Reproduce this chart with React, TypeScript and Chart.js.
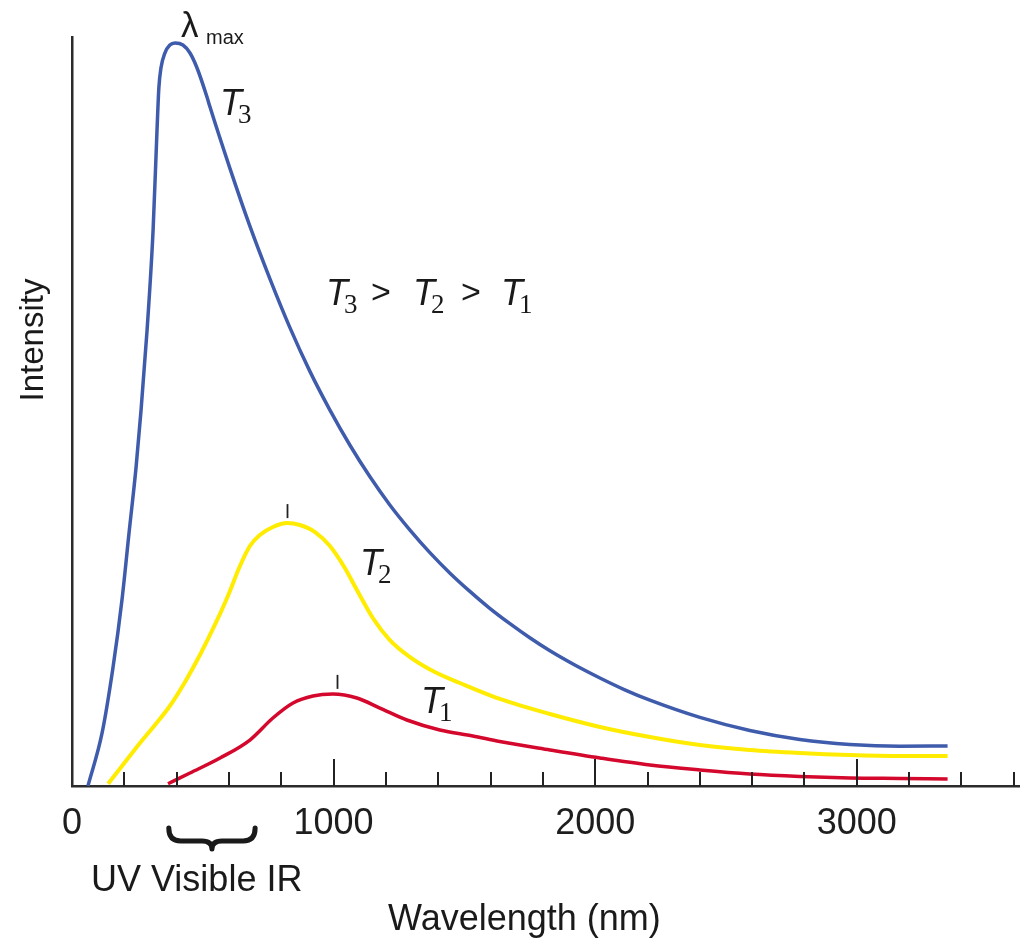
import React, { useEffect, useRef } from "react";
import { Chart, registerables } from "chart.js";

Chart.register(...registerables);

// ---- data (wavelength in nm, intensity in arbitrary units 0..100) ----
const t3Wavelength = [61, 115, 157, 191, 218, 245, 264, 287, 310, 325, 332, 340, 355, 374, 394, 424, 451, 478, 516, 527, 604, 680, 757, 833, 909, 986, 1062, 1139, 1215, 1292, 1368, 1444, 1521, 1597, 1674, 1750, 1827, 1922, 2018, 2113, 2209, 2400, 2591, 2782, 2973, 3164, 3347];
const t3Intensity = [0, 7.08, 15.89, 24.83, 33.78, 42.59, 50.2, 60.88, 74.23, 87.58, 93.19, 95.86, 97.86, 98.93, 99.2, 98.93, 97.86, 95.86, 91.99, 90.71, 82.43, 74.75, 67.68, 61.2, 55.39, 50.19, 45.53, 41.28, 37.52, 34.17, 31.16, 28.45, 25.98, 23.72, 21.67, 19.79, 18.05, 16.15, 14.42, 12.84, 11.46, 9.16, 7.42, 6.22, 5.55, 5.31, 5.34];

const t2Wavelength = [138, 203, 260, 317, 374, 432, 489, 546, 596, 642, 680, 718, 768, 822, 871, 929, 986, 1043, 1089, 1150, 1215, 1292, 1387, 1483, 1635, 1827, 2018, 2209, 2400, 2591, 2782, 2973, 3164, 3347];
const t2Intensity = [0.3, 3.2, 5.74, 8.14, 10.68, 13.89, 17.49, 21.5, 25.37, 29.37, 32.04, 33.51, 34.58, 35.11, 34.85, 33.91, 32.04, 29.11, 26.17, 22.43, 19.49, 17.22, 15.22, 13.75, 11.62, 9.61, 7.88, 6.54, 5.47, 4.81, 4.41, 4.14, 4.01, 4.01];

const t1Wavelength = [367, 451, 566, 680, 768, 845, 921, 997, 1089, 1177, 1280, 1406, 1532, 1635, 1827, 2018, 2209, 2400, 2591, 2782, 2973, 3164, 3347];
const t1Intensity = [0.3, 1.74, 3.74, 6.14, 9.08, 11.08, 12.02, 12.28, 11.75, 10.41, 8.81, 7.48, 6.68, 5.94, 4.81, 3.74, 2.8, 2.14, 1.6, 1.27, 1.07, 1.0, 0.93];

// λmax markers for T2 and T1
const peakWavelength = [822, 1013];
const peakIntensity = [35.1, 12.3];

// visible band (nm) marked by the brace
const visibleBand = [370, 700];

// x axis: tick marks every 200 nm, labels every 1000 nm
const xTickValues = [0, 200, 400, 600, 800, 1000, 1200, 1400, 1600, 1800, 2000, 2200, 2400, 2600, 2800, 3000, 3200, 3400, 3600];
const xTickLabels = [0, 1000, 2000, 3000];

const SANS = '"Liberation Sans", Arial, Helvetica, sans-serif';
const SERIF = '"Liberation Serif", "Times New Roman", serif';

function toPoints(xs: number[], ys: number[]) {
  return xs.map((x, i) => ({ x, y: ys[i] }));
}

const isLabelled = (v: number) => xTickLabels.some((t) => Math.abs(t - v) < 1e-6);

const overlay = {
  id: "overlay",
  afterDraw(chart: any) {
    const { ctx, chartArea } = chart;
    const x = chart.scales.x;
    const y = chart.scales.y;
    ctx.save();

    // inward tick marks
    ctx.strokeStyle = "#222";
    ctx.lineWidth = 2;
    x.ticks.forEach((t: any) => {
      if (Math.abs(t.value) < 1e-6) return;
      const px = Math.round(x.getPixelForValue(t.value));
      const len = isLabelled(t.value) ? 27 : 14;
      ctx.beginPath();
      ctx.moveTo(px, chartArea.bottom);
      ctx.lineTo(px, chartArea.bottom - len);
      ctx.stroke();
    });

    // peak markers
    ctx.lineWidth = 1.8;
    peakWavelength.forEach((w, i) => {
      const px = Math.round(x.getPixelForValue(w)) + 0.5;
      const py = y.getPixelForValue(peakIntensity[i]);
      ctx.beginPath();
      ctx.moveTo(px, py - 5);
      ctx.lineTo(px, py - 19);
      ctx.stroke();
    });

    // brace under visible band
    const x0 = x.getPixelForValue(visibleBand[0]);
    const x1 = x.getPixelForValue(visibleBand[1]);
    const xc = (x0 + x1) / 2;
    const yTop = chartArea.bottom + 42;
    const yMid = chartArea.bottom + 55;
    const yBot = chartArea.bottom + 63;
    ctx.strokeStyle = "#1a1a1a";
    ctx.lineWidth = 5;
    ctx.lineCap = "round";
    ctx.lineJoin = "round";
    ctx.beginPath();
    ctx.moveTo(x0, yTop);
    ctx.quadraticCurveTo(x0, yMid, x0 + 12, yMid);
    ctx.lineTo(xc - 10, yMid);
    ctx.quadraticCurveTo(xc, yMid, xc, yBot);
    ctx.quadraticCurveTo(xc, yMid, xc + 10, yMid);
    ctx.lineTo(x1 - 12, yMid);
    ctx.quadraticCurveTo(x1, yMid, x1, yTop);
    ctx.stroke();

    // texts
    ctx.fillStyle = "#1a1a1a";
    ctx.textBaseline = "alphabetic";
    ctx.textAlign = "left";

    ctx.font = `36px ${SANS}`;
    ctx.fillText("UV Visible IR", 91, 891);
    ctx.fillText("Wavelength (nm)", 388, 930);

    ctx.save();
    ctx.translate(34, 340);
    ctx.rotate(-Math.PI / 2);
    ctx.textAlign = "center";
    ctx.textBaseline = "middle";
    ctx.font = `33px ${SANS}`;
    ctx.fillText("Intensity", 0, 0);
    ctx.restore();

    // λmax
    ctx.font = `35px ${SANS}`;
    ctx.fillText("λ", 181, 37);
    ctx.font = `20px ${SANS}`;
    ctx.fillText("max", 206, 44);

    const drawT = (left: number, base: number, sub: string) => {
      ctx.font = `italic 36px ${SANS}`;
      ctx.fillText("T", left, base);
      ctx.font = `27px ${SERIF}`;
      ctx.fillText(sub, left + 18, base + 8);
    };
    drawT(220, 115, "3");
    drawT(360, 575, "2");
    drawT(421, 713, "1");

    // T3 > T2 > T1
    drawT(326, 305, "3");
    ctx.font = `34px ${SANS}`;
    ctx.fillText(">", 371, 303);
    drawT(413, 305, "2");
    ctx.font = `34px ${SANS}`;
    ctx.fillText(">", 461, 303);
    drawT(501, 305, "1");

    ctx.restore();
  },
};

export default function App() {
  const ref = useRef<HTMLCanvasElement>(null);

  useEffect(() => {
    const canvas = ref.current;
    if (!canvas) return;
    const chart = new Chart(canvas, {
      type: "line",
      data: {
        datasets: [
          {
            label: "T3",
            data: toPoints(t3Wavelength, t3Intensity),
            borderColor: "#3f5bab",
            borderWidth: 3.5,
            cubicInterpolationMode: "monotone",
            fill: false,
          },
          {
            label: "T2",
            data: toPoints(t2Wavelength, t2Intensity),
            borderColor: "#ffec00",
            borderWidth: 4,
            cubicInterpolationMode: "monotone",
            fill: false,
          },
          {
            label: "T1",
            data: toPoints(t1Wavelength, t1Intensity),
            borderColor: "#d4082c",
            borderWidth: 3.5,
            cubicInterpolationMode: "monotone",
            fill: false,
          },
        ],
      },
      options: {
        animation: false,
        responsive: false,
        maintainAspectRatio: false,
        layout: { padding: { top: 37, right: 4, left: 0, bottom: 0 } },
        elements: { point: { radius: 0 } },
        plugins: {
          legend: { display: false },
          tooltip: { enabled: false },
        },
        scales: {
          x: {
            type: "linear",
            min: 0,
            max: 3620,
            grid: { display: false, drawTicks: false },
            border: { display: true, color: "#2b2b2b", width: 2.5 },
            afterBuildTicks: (s: any) => {
              s.ticks = xTickValues.map((v) => ({ value: v }));
            },
            ticks: {
              autoSkip: false,
              maxRotation: 0,
              padding: 4,
              color: "#1e1e1e",
              font: { family: SANS, size: 36, lineHeight: 1.89 },
              callback: (v: any) => (isLabelled(Number(v)) ? String(Math.round(Number(v))) : ""),
            },
            afterFit: (s: any) => {
              s.height = 153;
            },
          },
          y: {
            min: 0,
            max: 100,
            grid: { display: false, drawTicks: false },
            border: { display: true, color: "#2b2b2b", width: 2.5 },
            ticks: { display: false },
            afterFit: (s: any) => {
              s.width = 72;
            },
          },
        },
      },
      plugins: [overlay],
    } as any);
    return () => chart.destroy();
  }, []);

  return (
    <div style={{ position: "fixed", left: 0, top: 0, width: 1023, height: 939, background: "#fff" }}>
      <canvas ref={ref} width={1023} height={939} style={{ width: 1023, height: 939, display: "block" }} />
    </div>
  );
}
